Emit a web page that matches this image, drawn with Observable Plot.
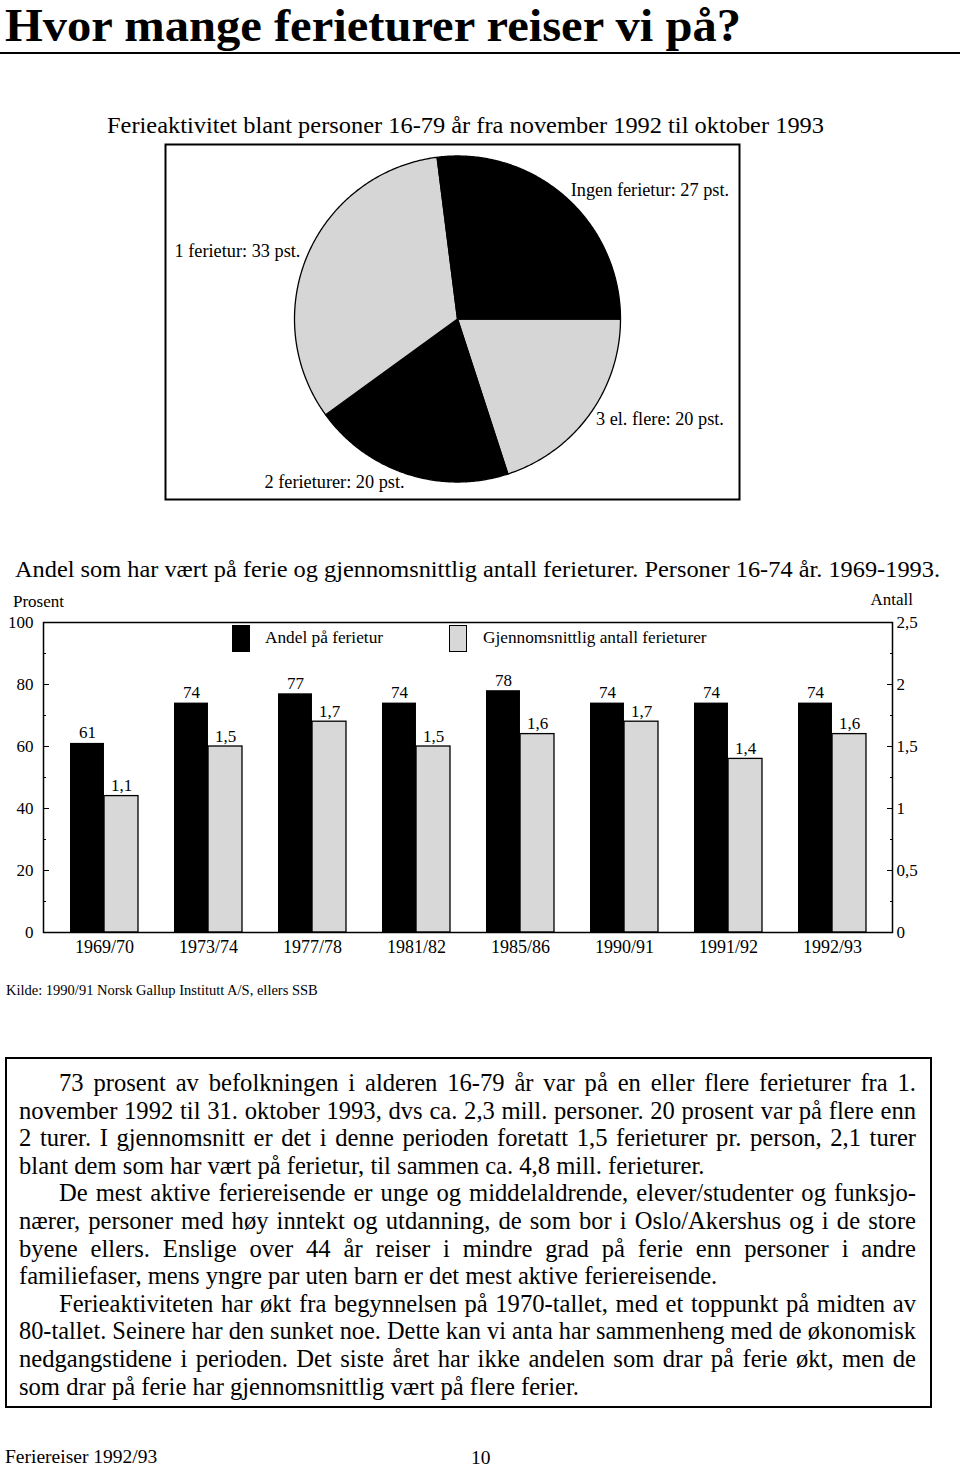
<!DOCTYPE html>
<html><head><meta charset="utf-8">
<script src="https://cdn.jsdelivr.net/npm/d3@7"></script>
<script src="https://cdn.jsdelivr.net/npm/@observablehq/plot@0.6"></script>
<style>
body{margin:0;background:#fff;}
#page{position:relative;width:960px;height:1472px;font-family:"Liberation Serif","Times New Roman",serif;color:#000;overflow:hidden;background:#fff;}
.abs{position:absolute;white-space:nowrap;line-height:1;}
#body{position:absolute;left:5px;top:1057px;width:927px;height:351px;box-sizing:border-box;border:2px solid #000;padding:10px 14px 0 12px;font-size:24.6px;line-height:27.6px;}
#body .ln{white-space:nowrap;text-align:justify;text-align-last:justify;}
#body .ln.last{text-align:left;text-align-last:left;}
#body .ln.ind{padding-left:40px;}
svg{display:block;}
</style></head><body><div id="page"></div>
<script>
// ---------- text ----------
const pageTitle = "Hvor mange ferieturer reiser vi på?";
const pieTitle = "Ferieaktivitet blant personer 16-79 år fra november 1992 til oktober 1993";
const barTitle = "Andel som har vært på ferie og gjennomsnittlig antall ferieturer. Personer 16-74 år. 1969-1993.";
const leftAxisTitle = "Prosent";
const rightAxisTitle = "Antall";
const legendLabels = ["Andel på ferietur", "Gjennomsnittlig antall ferieturer"];
const sourceNote = "Kilde: 1990/91 Norsk Gallup Institutt A/S, ellers SSB";
const footerLeft = "Feriereiser 1992/93";
const footerPage = "10";

// ---------- pie data (clockwise from 3 o'clock) ----------
const pieLabels = ["3 el. flere", "2 ferieturer", "1 ferietur", "Ingen ferietur"];
const pieValues = [20, 20, 33, 27];

// ---------- bar data ----------
const periods = ["1969/70", "1973/74", "1977/78", "1981/82", "1985/86", "1990/91", "1991/92", "1992/93"];
const andelValues = [61, 74, 77, 74, 78, 74, 74, 74];
const antallValues = [1.1, 1.5, 1.7, 1.5, 1.6, 1.7, 1.4, 1.6];
const leftTicks = [0, 20, 40, 60, 80, 100];
const leftMinorTicks = [10, 30, 50, 70, 90];
const rightTicks = [0, 0.5, 1, 1.5, 2, 2.5];
const rightMinorTicks = [0.25, 0.75, 1.25, 1.75, 2.25];

// ---------- body text ----------
const bodyParagraphs = [
  ["73 prosent av befolkningen i alderen 16-79 år var på en eller flere ferieturer fra 1.",
   "november 1992 til 31. oktober 1993, dvs ca. 2,3 mill. personer. 20 prosent var på flere enn",
   "2 turer. I gjennomsnitt er det i denne perioden foretatt 1,5 ferieturer pr. person, 2,1 turer",
   "blant dem som har vært på ferietur, til sammen ca. 4,8 mill. ferieturer."],
  ["De mest aktive feriereisende er unge og middelaldrende, elever/studenter og funksjo-",
   "nærer, personer med høy inntekt og utdanning, de som bor i Oslo/Akershus og i de store",
   "byene ellers. Enslige over 44 år reiser i mindre grad på ferie enn personer i andre",
   "familiefaser, mens yngre par uten barn er det mest aktive feriereisende."],
  ["Ferieaktiviteten har økt fra begynnelsen på 1970-tallet, med et toppunkt på midten av",
   "80-tallet. Seinere har den sunket noe. Dette kan vi anta har sammenheng med de økonomisk",
   "nedgangstidene i perioden. Det siste året har ikke andelen som drar på ferie økt, men de",
   "som drar på ferie har gjennomsnittlig vært på flere ferier."]
];

const page = document.getElementById("page");
const SERIF = '"Liberation Serif","Times New Roman",serif';
function txt(s, css) {
  const d = document.createElement("div");
  d.className = "abs";
  d.textContent = s;
  Object.assign(d.style, css);
  page.appendChild(d);
  return d;
}
function box(css) {
  const d = document.createElement("div");
  d.style.position = "absolute";
  Object.assign(d.style, css);
  page.appendChild(d);
  return d;
}
function fitWidth(el, w) {
  const r = el.getBoundingClientRect().width;
  if (r > 0) { el.style.transformOrigin = "0 0"; el.style.transform = `scaleX(${w / r})`; }
}
const comma = v => String(v).replace(".", ",");

// header
fitWidth(txt(pageTitle, {left: "5px", top: "3px", fontSize: "46px", fontWeight: "bold"}), 736);
box({left: "0px", top: "52px", width: "960px", height: "2px", background: "#000"});
fitWidth(txt(pieTitle, {left: "107px", top: "113px", fontSize: "24px"}), 717);

// ---------- pie ----------
const BLACK = "#000", PIEGRAY = "#d6d6d6", BARGRAY = "#d8d8d8";
const arcs = d3.pie().sort(null).startAngle(Math.PI / 2).endAngle(Math.PI / 2 + 2 * Math.PI)(pieValues);
const piePts = arcs.flatMap((a, i) => {
  const n = Math.ceil((a.endAngle - a.startAngle) / 0.01);
  const pts = [{i, x: 0, y: 0}];
  for (let j = 0; j <= n; j++) {
    const t = a.startAngle + (a.endAngle - a.startAngle) * j / n;
    pts.push({i, x: Math.sin(t), y: Math.cos(t)});
  }
  pts.push({i, x: 0, y: 0});
  return pts;
});
const pieLab = arcs.map((a, i) => {
  const m = (a.startAngle + a.endAngle) / 2;
  return {label: `${pieLabels[i]}: ${pieValues[i]} pst.`, x: 1.05 * Math.sin(m), y: 1.05 * Math.cos(m), right: Math.sin(m) > 0};
});
const pie = Plot.plot({
  width: 576, height: 357, margin: 0,
  style: {fontFamily: SERIF, background: "transparent", overflow: "visible"},
  x: {domain: [-1, 1], range: [130, 456], axis: null},
  y: {domain: [-1, 1], range: [338.5, 12.5], axis: null},
  color: {type: "identity"},
  marks: [
    Plot.frame({stroke: BLACK, strokeWidth: 2, inset: 1}),
    Plot.line(piePts, {x: "x", y: "y", z: "i", fill: d => (d.i % 2 ? BLACK : PIEGRAY), stroke: BLACK, strokeWidth: 1.3, strokeLinejoin: "round"}),
    Plot.text(pieLab.filter(d => d.right), {x: "x", y: "y", text: "label", textAnchor: "start", fontSize: 18.3}),
    Plot.text(pieLab.filter(d => !d.right), {x: "x", y: "y", text: "label", textAnchor: "end", fontSize: 18.3})
  ]
});
pie.style.position = "absolute"; pie.style.left = "164px"; pie.style.top = "143px";
page.appendChild(pie);

// ---------- bar chart ----------
fitWidth(txt(barTitle, {left: "15px", top: "557px", fontSize: "24px"}), 925);
txt(leftAxisTitle, {left: "13px", top: "593px", fontSize: "17px"});
txt(rightAxisTitle, {right: "47px", top: "591px", fontSize: "17px"});

const k = 100 / 2.5;
const rows = periods.map((p, i) => ({period: p, andel: andelValues[i], antall: antallValues[i]}));
const xRange = [43, 892], pIn = 0.35, pOut = 0.23;
const step = (xRange[1] - xRange[0]) / (periods.length - pIn + 2 * pOut);
const half = step * (1 - pIn) / 2;
const bar = Plot.plot({
  width: 960, height: 372,
  marginLeft: 43, marginRight: 68, marginTop: 22, marginBottom: 40,
  style: {fontFamily: SERIF, fontSize: "17px", background: "transparent", overflow: "visible"},
  x: {type: "band", domain: periods, paddingInner: pIn, paddingOuter: pOut, label: null},
  y: {domain: [0, 100], label: null},
  marks: [
    Plot.barY(rows, {x: "period", y: "andel", fill: BLACK, insetRight: half}),
    Plot.barY(rows, {x: "period", y: d => d.antall * k, fill: BARGRAY, stroke: BLACK, strokeWidth: 1.3, insetLeft: half}),
    Plot.text(rows, {x: "period", y: "andel", text: d => String(d.andel), dx: -half / 2, dy: -5, lineAnchor: "bottom", fontSize: 17}),
    Plot.text(rows, {x: "period", y: d => d.antall * k, text: d => comma(d.antall), dx: half / 2, dy: -5, lineAnchor: "bottom", fontSize: 17}),
    Plot.frame({stroke: BLACK, strokeWidth: 1.5}),
    Plot.axisY({anchor: "left", ticks: leftTicks, tickSize: 6, insetLeft: 6, tickPadding: 10, fontSize: 17, label: null}),
    Plot.axisY({anchor: "left", ticks: leftMinorTicks, tickSize: 3, insetLeft: 3, fill: "none", label: null}),
    Plot.axisY({anchor: "right", ticks: rightTicks.map(v => v * k), tickFormat: d => comma(d / k), tickSize: 6, insetRight: 6, tickPadding: 4, fontSize: 17, label: null}),
    Plot.axisY({anchor: "right", ticks: rightMinorTicks.map(v => v * k), tickSize: 3, insetRight: 3, fill: "none", label: null}),
    Plot.axisX({tickSize: 0, tickPadding: 8, fontSize: 18, label: null})
  ]
});
bar.style.position = "absolute"; bar.style.left = "0px"; bar.style.top = "600px";
page.appendChild(bar);

// legend (inside the plot frame)
box({left: "232px", top: "625px", width: "18px", height: "27px", background: BLACK});
txt(legendLabels[0], {left: "265px", top: "629px", fontSize: "17.3px"});
box({left: "449px", top: "625px", width: "18px", height: "27px", background: BARGRAY, border: "1.5px solid #000", boxSizing: "border-box"});
txt(legendLabels[1], {left: "483px", top: "629px", fontSize: "17.3px"});

txt(sourceNote, {left: "6px", top: "983px", fontSize: "14.5px"});

// ---------- body text box ----------
const body = document.createElement("div");
body.id = "body";
page.appendChild(body);
bodyParagraphs.forEach(par => par.forEach((line, j) => {
  const d = document.createElement("div");
  d.className = "ln" + (j === 0 ? " ind" : "") + (j === par.length - 1 ? " last" : "");
  const s = document.createElement("span");
  s.textContent = line;
  d.appendChild(s);
  body.appendChild(d);
  // safety: compress a line that would not fit
  const avail = d.clientWidth - (j === 0 ? 40 : 0);
  const w = s.getBoundingClientRect().width;
  if (w > avail) { d.style.textAlign = "left"; d.style.textAlignLast = "left"; s.style.display = "inline-block"; s.style.transformOrigin = "0 0"; s.style.transform = `scaleX(${avail / w})`; }
}));

// footer
txt(footerLeft, {left: "5px", top: "1447px", fontSize: "19.5px"});
txt(footerPage, {left: "471px", top: "1448px", fontSize: "19.5px"});
</script></body></html>
